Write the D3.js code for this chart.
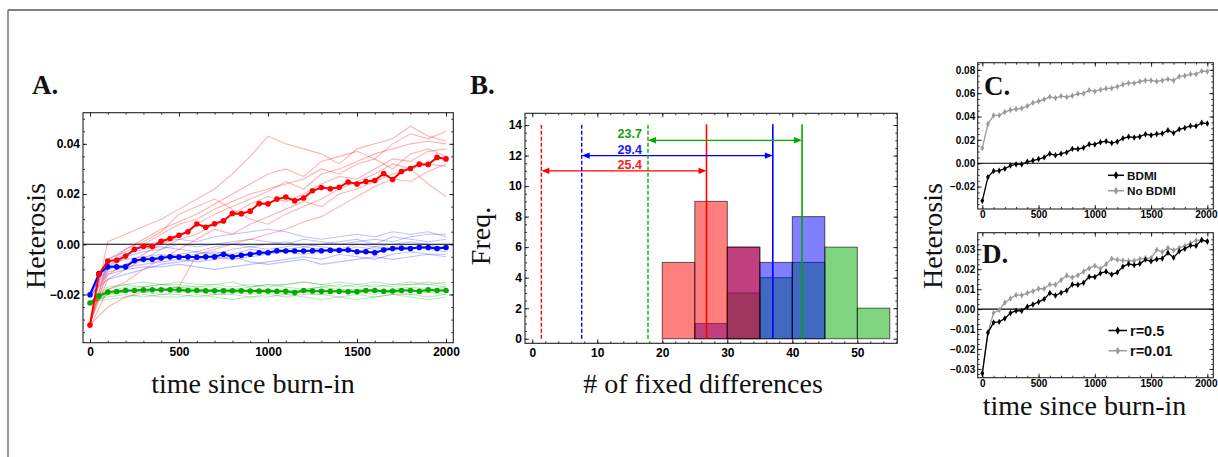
<!DOCTYPE html>
<html><head><meta charset="utf-8">
<script src="https://cdn.jsdelivr.net/npm/d3@7"></script>
<style>body{margin:0;background:#fff} svg{display:block}</style>
</head><body>
<svg id="c" width="1218" height="457"></svg>
<script>
// ---------------- DATA ----------------
const timeGrid = [0,50,100,150,200,250,300,350,400,450,500,550,600,650,700,750,800,850,900,950,1000,
  1050,1100,1150,1200,1250,1300,1350,1400,1450,1500,1550,1600,1650,1700,1750,1800,1850,1900,1950,2000];
const repTimes = [0,100,200,300,400,500,600,700,800,900,1000,1100,1200,1300,1400,1500,1600,1700,1800,1900,2000];

// mean heterosis (BDMI, r=0.5) - red in A, black in C and D
const hetBDMI = [-0.0322,-0.0119,-0.0067,-0.0064,-0.0047,-0.0020,-0.0008,-0.0009,0.0012,0.0023,0.0036,0.0050,0.0081,0.0068,0.0082,0.0093,0.0123,0.0122,0.0132,0.0162,0.0161,
  0.0180,0.0188,0.0173,0.0184,0.0213,0.0226,0.0221,0.0227,0.0248,0.0240,0.0250,0.0254,0.0282,0.0258,0.0290,0.0302,0.0319,0.0318,0.0346,0.0340];
const blueMean = [-0.0201,-0.0117,-0.0090,-0.0090,-0.0090,-0.0065,-0.0060,-0.0060,-0.0055,-0.0050,-0.0051,-0.0050,-0.0052,-0.0050,-0.0050,-0.0040,-0.0050,-0.0044,-0.0040,-0.0034,-0.0034,
  -0.0026,-0.0027,-0.0027,-0.0027,-0.0026,-0.0026,-0.0024,-0.0024,-0.0023,-0.0030,-0.0030,-0.0034,-0.0023,-0.0017,-0.0016,-0.0017,-0.0013,-0.0013,-0.0017,-0.0013];
const greenMean = [-0.0234,-0.0205,-0.0190,-0.0188,-0.0184,-0.0184,-0.0181,-0.0181,-0.0181,-0.0181,-0.0181,-0.0184,-0.0184,-0.0185,-0.0185,-0.0185,-0.0185,-0.0185,-0.0186,-0.0186,-0.0186,
  -0.0187,-0.0187,-0.0192,-0.0184,-0.0186,-0.0187,-0.0187,-0.0187,-0.0189,-0.0189,-0.0184,-0.0184,-0.0187,-0.0186,-0.0184,-0.0184,-0.0187,-0.0181,-0.0184,-0.0184];
const hetNoBDMI = [0.0131,0.0336,0.0410,0.0410,0.0438,0.0456,0.0464,0.0470,0.0490,0.0518,0.0530,0.0547,0.0570,0.0558,0.0575,0.0567,0.0578,0.0595,0.0598,0.0626,0.0615,
  0.0629,0.0640,0.0643,0.0655,0.0675,0.0686,0.0686,0.0700,0.0709,0.0709,0.0700,0.0709,0.0720,0.0709,0.0743,0.0749,0.0763,0.0763,0.0789,0.0786];
const hetR001 = [-0.0322,-0.0117,-0.0019,-0.0005,0.0032,0.0053,0.0071,0.0069,0.0080,0.0090,0.0102,0.0102,0.0124,0.0122,0.0146,0.0168,0.0158,0.0170,0.0188,0.0205,0.0217,
  0.0202,0.0225,0.0253,0.0247,0.0244,0.0241,0.0242,0.0251,0.0256,0.0256,0.0297,0.0286,0.0307,0.0295,0.0307,0.0317,0.0330,0.0344,0.0346,0.0335];

// replicate runs (values in thousandths), sampled at repTimes
const redReps = [
  [-31,-8,-2,2,6,9,12,16,20,24,28,30,27,33,35,37,34,40,44,42,45],
  [-32,1,4,7,10,14,18,22,28,35,43,40,38,36,32,38,40,42,47,43,41],
  [-30,-12,-8,-4,0,3,8,12,15,18,21,25,22,28,30,33,36,38,40,41,40],
  [-33,-18,-15,-10,-6,-2,2,6,4,8,11,14,17,15,20,22,25,28,30,32,31],
  [-32,-10,-5,0,4,8,10,14,17,20,22,24,26,30,28,32,34,30,36,38,35],
  [-32,-25,-21,-19,-18,-17,-4,-2,0,2,4,6,9,11,15,19,23,26,25,29,32],
  [-32,-6,-2,1,5,12,15,18,14,10,8,12,15,18,22,25,28,32,30,24,19],
  [-31,-14,-10,-6,-2,2,4,8,12,16,19,17,20,24,27,26,30,34,33,37,38]];
const blueReps = [
  [-20,-6,-3,0,1,2,1,3,4,5,6,5,3,2,3,4,3,5,4,5,3],
  [-20,-10,-8,-6,-5,-4,-3,-4,-2,-1,0,1,-1,0,1,2,0,3,2,1,2],
  [-21,-12,-10,-9,-9,-8,-9,-10,-9,-8,-7,-6,-5,-6,-4,-5,-6,-4,-3,-4,-5],
  [-19,-8,-6,-5,-4,-5,-4,-3,-4,-2,-3,-2,-1,-2,-3,-1,-2,-1,0,-1,-1],
  [-20,-14,-12,-10,-8,-7,-6,-5,-6,-5,-4,-3,-4,-3,-2,-3,-1,-2,-1,-2,-3],
  [-20,-9,-5,-3,-2,0,-1,0,1,2,1,0,2,1,0,1,2,1,3,4,4],
  [-21,-11,-9,-8,-7,-6,-7,-6,-5,-7,-8,-7,-6,-8,-7,-6,-5,-6,-5,-4,-4],
  [-20,-7,-4,-2,-1,-2,-3,-1,0,-1,-2,-1,0,-1,-2,0,-1,0,1,0,-2]];
const greenReps = [
  [-23,-18,-16,-15,-16,-15,-16,-16,-15,-17,-16,-16,-15,-16,-17,-16,-15,-16,-15,-16,-15],
  [-24,-20,-19,-18,-18,-17,-18,-18,-19,-18,-18,-19,-18,-17,-18,-18,-19,-18,-17,-18,-17],
  [-23,-21,-20,-21,-20,-20,-21,-20,-20,-21,-20,-21,-20,-20,-21,-20,-21,-20,-20,-21,-20],
  [-24,-19,-17,-17,-16,-17,-17,-17,-18,-17,-16,-17,-18,-17,-16,-17,-16,-17,-16,-16,-17],
  [-23,-22,-21,-20,-21,-21,-20,-21,-22,-21,-21,-20,-21,-22,-21,-22,-21,-20,-21,-22,-21],
  [-24,-19,-18,-19,-18,-19,-18,-19,-18,-19,-19,-18,-19,-18,-19,-18,-18,-19,-18,-19,-18],
  [-23,-17,-16,-17,-16,-16,-17,-16,-17,-16,-17,-16,-15,-16,-15,-16,-17,-16,-16,-15,-16],
  [-24,-20,-19,-19,-20,-19,-19,-20,-19,-20,-19,-20,-19,-20,-19,-19,-20,-19,-20,-19,-20]];

// histogram (panel B)
const binEdges = [20,25,30,35,40,45,50,55];
const redCounts   = [5,9,6,0,0,0,0];
const blueCounts  = [0,1,6,5,8,0,0];
const greenCounts = [0,0,3,4,5,6,2];
const meanStart = [1.4, 7.6, 17.8];   // dashed lines: red, blue, green
const meanEnd   = [26.8, 37.0, 41.5]; // solid lines
const diffLabels = ["25.4","29.4","23.7"];
const arrowLevels = [11, 12, 13];
const legendC = ["BDMI","No BDMI"];
const legendD = ["r=0.5","r=0.01"];

// ---------------- DRAW ----------------
const svg = d3.select("#c");
const RED="#ff0000", BLUE="#0000ff", GREEN="#00aa00", GRAY="#9a9a9a";
const TICKFONT = "'Liberation Sans', Arial, sans-serif";
const SERIF = "'Liberation Serif', 'Times New Roman', serif";

svg.append("line").attr("x1",8).attr("y1",10).attr("x2",1218).attr("y2",10).attr("stroke","#000").attr("stroke-width",1.2);
svg.append("line").attr("x1",8).attr("y1",10).attr("x2",8).attr("y2",457).attr("stroke","#777").attr("stroke-width",1.5);

let clipN = 0;
function panel(o){
  const x = d3.scaleLinear().domain(o.xd).range([o.l,o.r]);
  const y = d3.scaleLinear().domain(o.yd).range([o.b,o.t]);
  const id = "clip"+(clipN++);
  svg.append("clipPath").attr("id",id).append("rect")
    .attr("x",o.l).attr("y",o.t).attr("width",o.r-o.l).attr("height",o.b-o.t);
  const plot = svg.append("g").attr("clip-path",`url(#${id})`);
  return {x,y,plot,o};
}
function axes(P){
  const {x,y,o} = P;
  const g = svg.append("g");
  const mk = (axis, tr) => {
    const a = g.append("g").attr("transform",tr).call(axis);
    a.select(".domain").remove();
    a.selectAll(".tick line").attr("stroke","#000").attr("stroke-width",0.8);
    a.selectAll("text").attr("font-family",TICKFONT).attr("font-weight","bold")
      .attr("font-size",o.fs).attr("fill","#000");
    return a;
  };
  const bx = mk(d3.axisBottom(x).tickValues(o.xt).tickSize(-4).tickPadding(o.xpad).tickFormat(o.xf), `translate(0,${o.b})`);
  if (o.lastDx) bx.selectAll("text").filter((d,i,n)=>i===n.length-1).attr("dx",o.lastDx);
  mk(d3.axisBottom(x).tickValues(o.xm).tickSize(-2).tickFormat(""), `translate(0,${o.b})`);
  mk(d3.axisTop(x).tickValues(o.xt).tickSize(-4).tickFormat(""), `translate(0,${o.t})`);
  mk(d3.axisTop(x).tickValues(o.xm).tickSize(-2).tickFormat(""), `translate(0,${o.t})`);
  mk(d3.axisLeft(y).tickValues(o.yt).tickSize(-4).tickPadding(o.ypad).tickFormat(o.yf), `translate(${o.l},0)`);
  mk(d3.axisLeft(y).tickValues(o.ym).tickSize(-2).tickFormat(""), `translate(${o.l},0)`);
  mk(d3.axisRight(y).tickValues(o.yt).tickSize(-4).tickFormat(""), `translate(${o.r},0)`);
  mk(d3.axisRight(y).tickValues(o.ym).tickSize(-2).tickFormat(""), `translate(${o.r},0)`);
  g.append("rect").attr("x",o.l).attr("y",o.t).attr("width",o.r-o.l).attr("height",o.b-o.t)
    .attr("fill","none").attr("stroke","#222").attr("stroke-width",1.1);
}
function title(txt, x, y, rot){
  const t = svg.append("text").attr("font-family",SERIF).attr("font-size",28)
    .attr("text-anchor","middle").attr("fill","#111").text(txt);
  if(rot) t.attr("transform",`translate(${x},${y}) rotate(-90)`); else t.attr("x",x).attr("y",y);
}
function letter(txt, x, y){
  svg.append("text").attr("x",x).attr("y",y).attr("font-family",SERIF).attr("font-weight","bold")
    .attr("font-size",27).attr("fill","#111").text(txt);
}
const f2 = d3.format(".2f");
const rng = (a,b,s) => d3.range(a, b + s/2, s);

// ===== Panel A =====
const A = panel({l:83,r:453.3,t:112.7,b:342.7,xd:[-39.3,2041],yd:[-0.0392,0.0524],
  xt:rng(0,2000,500), xm:rng(0,2000,100), yt:[-0.02,0,0.02,0.04], ym:rng(-0.035,0.05,0.005),
  xf:d3.format("d"), yf:f2, fs:12, xpad:5, ypad:3});
{
  const {x,y,plot} = A;
  const repLine = d3.line().x((d,i)=>x(repTimes[i])).y(d=>y(d/1000));
  [[greenReps,GREEN,0.28],[blueReps,BLUE,0.25],[redReps,RED,0.3]].forEach(([reps,c,op])=>{
    plot.selectAll(null).data(reps).join("path").attr("d",repLine)
      .attr("fill","none").attr("stroke",c).attr("stroke-opacity",op).attr("stroke-width",1.1);
  });
  plot.append("line").attr("x1",A.o.l).attr("x2",A.o.r).attr("y1",y(0)).attr("y2",y(0))
    .attr("stroke","#000").attr("stroke-width",1.1);
  const mline = d3.line().x((d,i)=>x(timeGrid[i])).y(d=>y(d));
  [[greenMean,GREEN],[blueMean,BLUE],[hetBDMI,RED]].forEach(([s,c])=>{
    plot.append("path").attr("d",mline(s)).attr("fill","none").attr("stroke",c).attr("stroke-width",2);
    plot.selectAll(null).data(s).join("circle").attr("cx",(d,i)=>x(timeGrid[i])).attr("cy",d=>y(d))
      .attr("r",2.8).attr("fill",c);
  });
}
axes(A);
letter("A.", 32, 94);
title("Heterosis", 44.5, 236, true);
title("time since burn-in", 253, 393);

// ===== Panel B =====
const B = panel({l:525,r:897.3,t:113.3,b:343.3,xd:[-1.12,56.15],yd:[-0.3,14.77],
  xt:rng(0,50,10), xm:rng(0,56,2), yt:rng(0,14,2), ym:rng(0,14.5,0.5),
  xf:d3.format("d"), yf:d3.format("d"), fs:12, xpad:5, ypad:3});
{
  const {x,y,plot} = B;
  const bins = binEdges.slice(0,-1).map((e,i)=>({x0:e,x1:binEdges[i+1],i}));
  [[greenCounts,GREEN],[blueCounts,BLUE],[redCounts,RED]].forEach(([cnt,c])=>{
    plot.selectAll(null).data(bins.filter(b=>cnt[b.i]>0)).join("rect")
      .attr("x",b=>x(b.x0)).attr("width",b=>x(b.x1)-x(b.x0))
      .attr("y",b=>y(cnt[b.i])).attr("height",b=>y(0)-y(cnt[b.i]))
      .attr("fill",c).attr("fill-opacity",0.5)
      .attr("stroke","#000").attr("stroke-opacity",0.6).attr("stroke-width",1);
  });
  const cols = [RED, BLUE, GREEN];
  const txtCols = ["#ff1a1a","#1a1aff","#10a010"];
  meanStart.forEach((v,i)=>{
    plot.append("line").attr("x1",x(v)).attr("x2",x(v)).attr("y1",y(0)).attr("y2",y(14))
      .attr("stroke",cols[i]).attr("stroke-width",1.4).attr("stroke-dasharray","4,2");
    plot.append("line").attr("x1",x(meanEnd[i])).attr("x2",x(meanEnd[i])).attr("y1",y(0)).attr("y2",y(14.05))
      .attr("stroke",cols[i]).attr("stroke-width",1.6);
    const ay = y(arrowLevels[i]), xa = x(v), xb = x(meanEnd[i]);
    plot.append("line").attr("x1",xa+3).attr("x2",xb-3).attr("y1",ay).attr("y2",ay)
      .attr("stroke",cols[i]).attr("stroke-width",1.2);
    plot.append("path").attr("d",`M${xa},${ay}L${xa+8},${ay-3.2}L${xa+8},${ay+3.2}Z`).attr("fill",cols[i]);
    plot.append("path").attr("d",`M${xb},${ay}L${xb-8},${ay-3.2}L${xb-8},${ay+3.2}Z`).attr("fill",cols[i]);
    plot.append("text").attr("x",x(15)).attr("y",ay-2).attr("text-anchor","middle")
      .attr("font-family",TICKFONT).attr("font-weight","bold").attr("font-size",12.5)
      .attr("fill",txtCols[i]).text(diffLabels[i]);
  });
}
axes(B);
letter("B.", 470, 94);
title("Freq.", 490, 236, true);
title("# of fixed differences", 703, 393);

// ===== Panels C, D =====
function smallSeries(P, s, c){
  const {x,y,plot} = P;
  plot.append("path").attr("d",d3.line().x((d,i)=>x(timeGrid[i])).y(d=>y(d))(s))
    .attr("fill","none").attr("stroke",c).attr("stroke-width",1.3);
  plot.selectAll(null).data(s).join("path")
    .attr("transform",(d,i)=>`translate(${x(timeGrid[i])},${y(d)})`)
    .attr("d",d3.symbol(d3.symbolDiamond,12)()).attr("fill",c);
}
function legend(items, cols, x0, x1, ys, fs){
  items.forEach((t,i)=>{
    svg.append("line").attr("x1",x0).attr("x2",x1).attr("y1",ys[i]).attr("y2",ys[i])
      .attr("stroke",cols[i]).attr("stroke-width",1.5);
    svg.append("path").attr("transform",`translate(${(x0+x1)/2},${ys[i]})`)
      .attr("d",d3.symbol(d3.symbolDiamond,18)()).attr("fill",cols[i]);
    svg.append("text").attr("x",x1+3).attr("y",ys[i]).attr("dy","0.36em")
      .attr("font-family",TICKFONT).attr("font-weight","bold").attr("font-size",fs)
      .attr("fill","#111").text(t);
  });
}
const C = panel({l:977.7,r:1213.3,t:62.7,b:209,xd:[-41,2053],yd:[-0.0392,0.0861],
  xt:rng(0,2000,500), xm:rng(0,2000,100), yt:rng(-0.02,0.08,0.02), ym:rng(-0.035,0.085,0.005),
  xf:d3.format("d"), yf:f2, fs:10, xpad:2, ypad:2.5, lastDx:-1.5});
C.plot.append("line").attr("x1",C.o.l).attr("x2",C.o.r).attr("y1",C.y(0)).attr("y2",C.y(0))
  .attr("stroke","#000").attr("stroke-width",1.1);
smallSeries(C, hetNoBDMI, GRAY);
smallSeries(C, hetBDMI, "#000");
axes(C);
letter("C.", 984, 95);
legend(legendC, ["#000",GRAY], 1108, 1124, [175.3,190.7], 11.7);

const D = panel({l:977.7,r:1213.3,t:232.7,b:377.7,xd:[-41,2053],yd:[-0.0344,0.0383],
  xt:rng(0,2000,500), xm:rng(0,2000,100), yt:rng(-0.03,0.03,0.01), ym:rng(-0.0325,0.035,0.0025),
  xf:d3.format("d"), yf:f2, fs:10, xpad:2.5, ypad:2.5, lastDx:-1.5});
D.plot.append("line").attr("x1",D.o.l).attr("x2",D.o.r).attr("y1",D.y(0)).attr("y2",D.y(0))
  .attr("stroke","#000").attr("stroke-width",1.1);
smallSeries(D, hetR001, GRAY);
smallSeries(D, hetBDMI, "#000");
axes(D);
letter("D.", 982, 263);
legend(legendD, ["#000",GRAY], 1108.5, 1127, [330.5,350.7], 14.5);

title("Heterosis", 942, 236, true);
title("time since burn-in", 1084.5, 415);
</script>
</body></html>
